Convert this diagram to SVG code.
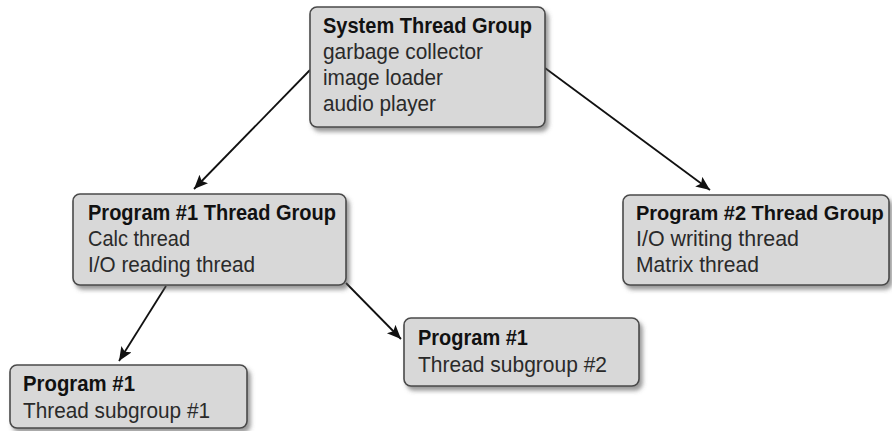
<svg xmlns="http://www.w3.org/2000/svg" width="892" height="431" viewBox="0 0 892 431">
<style>
.box{fill:#d8d8d8;stroke:#4a4a4a;stroke-width:1.6;filter:url(#sh)}
.t{font-family:"Liberation Sans",Arial,sans-serif;font-size:21.5px;fill:#2a2a2a}
.b{font-weight:bold;fill:#111}
.c{stroke:#111;stroke-width:1.8;fill:none;marker-end:url(#ah)}
</style>
<defs>
<filter id="sh" x="-10%" y="-10%" width="130%" height="140%">
<feDropShadow dx="3" dy="4" stdDeviation="2" flood-color="#555" flood-opacity="0.6"/>
</filter>
<marker id="ah" markerUnits="userSpaceOnUse" markerWidth="16" markerHeight="14" refX="14" refY="6" orient="auto">
<path d="M0,0 L14,6 L0,12 L3,6 z" fill="#111"/>
</marker>
</defs>
<g id="connectors">
<line class="c" x1="310" y1="70" x2="194" y2="189"/>
<line class="c" x1="545" y1="68" x2="710" y2="190"/>
<line class="c" x1="166" y1="286" x2="119" y2="361"/>
<line class="c" x1="346" y1="283" x2="401" y2="339"/>
</g>
<g id="system">
<rect class="box" x="310" y="7" width="235" height="120" rx="7"/>
<text class="t b" x="323" y="33" textLength="209" lengthAdjust="spacingAndGlyphs">System Thread Group</text>
<text class="t" x="323" y="59" textLength="160" lengthAdjust="spacingAndGlyphs">garbage collector</text>
<text class="t" x="323" y="85" textLength="120" lengthAdjust="spacingAndGlyphs">image loader</text>
<text class="t" x="323" y="111" textLength="113" lengthAdjust="spacingAndGlyphs">audio player</text>
</g>
<g id="program1">
<rect class="box" x="73" y="194" width="273" height="91" rx="7"/>
<text class="t b" x="88" y="220" textLength="248" lengthAdjust="spacingAndGlyphs">Program #1 Thread Group</text>
<text class="t" x="88" y="246" textLength="102" lengthAdjust="spacingAndGlyphs">Calc thread</text>
<text class="t" x="88" y="272" textLength="167" lengthAdjust="spacingAndGlyphs">I/O reading thread</text>
</g>
<g id="program2">
<rect class="box" x="623" y="195" width="266" height="90" rx="7"/>
<text class="t b" x="636" y="220" style="font-size:20px">Program #2 Thread Group</text>
<text class="t" x="636" y="246" textLength="163" lengthAdjust="spacingAndGlyphs">I/O writing thread</text>
<text class="t" x="636" y="272" textLength="123" lengthAdjust="spacingAndGlyphs">Matrix thread</text>
</g>
<g id="subgroup1">
<rect class="box" x="10" y="365" width="237" height="63" rx="7"/>
<text class="t b" x="23" y="391" textLength="112" lengthAdjust="spacingAndGlyphs">Program #1</text>
<text class="t" x="23" y="418" textLength="187" lengthAdjust="spacingAndGlyphs">Thread subgroup #1</text>
</g>
<g id="subgroup2">
<rect class="box" x="404" y="318" width="235" height="68" rx="7"/>
<text class="t b" x="418" y="345" textLength="110" lengthAdjust="spacingAndGlyphs">Program #1</text>
<text class="t" x="418" y="372" textLength="189" lengthAdjust="spacingAndGlyphs">Thread subgroup #2</text>
</g>
</svg>
